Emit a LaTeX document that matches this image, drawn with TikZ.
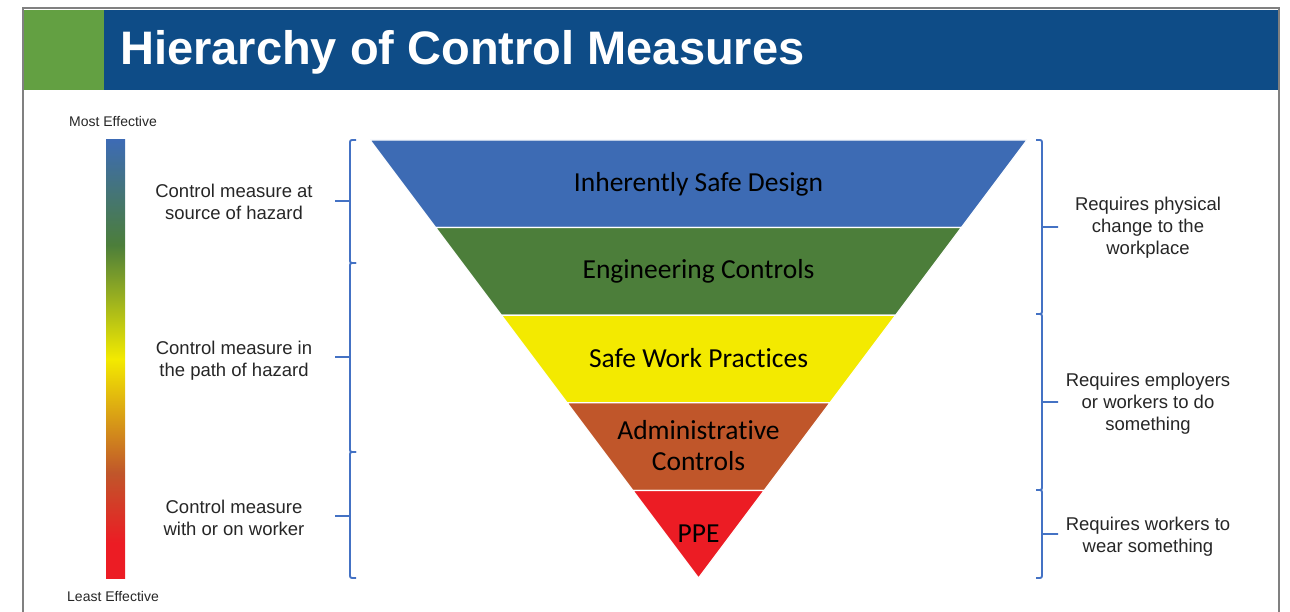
\documentclass[tikz,border=0pt]{standalone}
\usepackage{fontspec}
\setmainfont{Liberation Sans}
\newfontfamily\bandfont[Ligatures=NoCommon]{Carlito}
\usetikzlibrary{positioning}
\definecolor{hdrBlue}{RGB}{14,76,135}
\definecolor{hdrGreen}{RGB}{99,160,66}
\definecolor{frameGray}{RGB}{128,128,128}
\definecolor{bandBlue}{RGB}{61,107,180}
\definecolor{bandGreen}{RGB}{76,126,58}
\definecolor{bandYellow}{RGB}{243,234,0}
\definecolor{bandRust}{RGB}{192,86,42}
\definecolor{bandRed}{RGB}{236,28,36}
\definecolor{braceBlue}{RGB}{68,114,196}
\definecolor{txtGray}{RGB}{38,38,38}
\pgfdeclareverticalshading{effShade}{100bp}{color(0bp)=(bandRed); color(25bp)=(bandRed);
  color(29bp)=(bandRed); color(37bp)=(bandRust); color(50bp)=(bandYellow);
  color(63bp)=(bandGreen); color(75bp)=(bandBlue); color(100bp)=(bandBlue)}
\tikzset{
  titleTxt/.style={text=white,font=\fontsize{47}{56}\selectfont\bfseries,inner sep=0pt},
  endTxt/.style={text=txtGray,font=\fontsize{14}{16}\selectfont,inner sep=0pt},
  sideTxt/.style={text=txtGray,font=\fontsize{18.5}{22}\selectfont,align=center,inner sep=0pt},
  bandTxt/.style={text=black,font=\bandfont\fontsize{27.5}{31}\selectfont,align=center,inner sep=0pt},
  band/.style={draw=white,line width=1.2pt},
  braceLine/.style={draw=braceBlue,line width=1.9pt,rounded corners=2pt}
}
\begin{document}
\begin{tikzpicture}[x=1pt,y=-1pt]
  \useasboundingbox (0,0) rectangle (1290,612);
  % header
  \fill[hdrGreen] (23,10) rectangle (104,90);
  \fill[hdrBlue] (104,10) rectangle (1279,90);
  \draw[frameGray,line width=2pt] (23,612) -- (23,8) -- (1279,8) -- (1279,612);
  \node[titleTxt,anchor=base west] (title) at (120,65) {Hierarchy of Control Measures};

  % effectiveness bar
  \shade[shading=effShade] (106,140) rectangle (125,578);
  \node[endTxt] (mostEff) at (113,121) {Most Effective};
  \node[endTxt] (leastEff) at (113,596) {Least Effective};

  % inverted pyramid
  \fill[band,fill=bandBlue] (370,140) -- (1027,140) -- (961.3,227.6) -- (435.7,227.6) -- cycle;
  \fill[band,fill=bandGreen] (435.7,227.6) -- (961.3,227.6) -- (895.6,315.2) -- (501.4,315.2) -- cycle;
  \fill[band,fill=bandYellow] (501.4,315.2) -- (895.6,315.2) -- (829.9,402.8) -- (567.1,402.8) -- cycle;
  \fill[band,fill=bandRust] (567.1,402.8) -- (829.9,402.8) -- (764.2,490.4) -- (632.8,490.4) -- cycle;
  \fill[band,fill=bandRed] (632.8,490.4) -- (764.2,490.4) -- (698.5,578) -- cycle;
  \node[bandTxt] (design) at (698.5,184) {Inherently Safe Design};
  \node[bandTxt] (engineering) at (698.5,271) {Engineering Controls};
  \node[bandTxt] (practices) at (698.5,358) {Safe Work Practices};
  \node[bandTxt] (admin) at (698.5,446) {Administrative\\Controls};
  \node[bandTxt] (ppe) at (698.5,534) {PPE};

  % left braces
  \draw[braceLine] (356,140) -- (350,140) -- (350,263) -- (356,263) (350,201) -- (335,201);
  \draw[braceLine] (356,263) -- (350,263) -- (350,452) -- (356,452) (350,357) -- (335,357);
  \draw[braceLine] (356,452) -- (350,452) -- (350,578) -- (356,578) (350,516) -- (335,516);
  \node[sideTxt] (sourceTxt) at (234,202) {Control measure at\\source of hazard};
  \node[sideTxt] (pathTxt) at (234,361) {Control measure in\\the path of hazard};
  \node[sideTxt] (workerTxt) at (234,518) {Control measure\\with or on worker};

  % right braces
  \draw[braceLine] (1036,140) -- (1042,140) -- (1042,314) -- (1036,314) (1042,227) -- (1058,227);
  \draw[braceLine] (1036,314) -- (1042,314) -- (1042,490) -- (1036,490) (1042,402) -- (1058,402);
  \draw[braceLine] (1036,490) -- (1042,490) -- (1042,578) -- (1036,578) (1042,534) -- (1058,534);
  \node[sideTxt] (physicalTxt) at (1148,228) {Requires physical\\change to the\\workplace};
  \node[sideTxt] (employerTxt) at (1148,404) {Requires employers\\or workers to do\\something};
  \node[sideTxt] (wearTxt) at (1148,537) {Requires workers to\\wear something};
\end{tikzpicture}
\end{document}
